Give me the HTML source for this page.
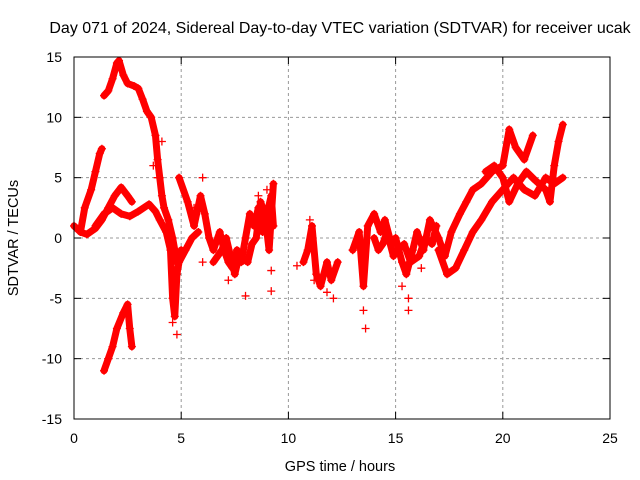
<!DOCTYPE html>
<html><head><meta charset="utf-8"><style>
body{margin:0;background:#fff}
svg{display:block;font-family:"Liberation Sans",sans-serif}
</style></head><body>
<svg id="chart" width="640" height="480">
<rect width="640" height="480" fill="#fff"/>
<text x="340" y="33" font-size="16" text-anchor="middle">Day 071 of 2024, Sidereal Day-to-day VTEC variation (SDTVAR) for receiver ucak</text>
<text x="340" y="471" font-size="14.5" text-anchor="middle">GPS time / hours</text>
<text transform="translate(18,238) rotate(-90)" font-size="14.5" text-anchor="middle">SDTVAR / TECUs</text>
<g id="grid"></g><g id="ticks"></g><g id="series"></g>
<rect x="74" y="57" width="536" height="362" fill="none" stroke="#000" stroke-width="1"/>
</svg>
<script>
const xTicks=[0,5,10,15,20,25];
const yTicks=[-15,-10,-5,0,5,10,15];
const seriesA=[[1.4,11.8],[1.6,12.2],[1.8,13.2],[2.0,14.5],[2.1,14.7],[2.3,13.5],[2.5,12.8],[2.8,12.6],[3.0,12.4],[3.2,11.5],[3.4,10.5],[3.6,10],[3.8,8.5],[3.9,6.5],[4.0,5],[4.1,3.5],[4.2,2.5],[4.4,1.5],[4.6,0],[4.8,-2],[5.0,-1]];
const seriesB=[[0.3,0.5],[0.5,2.5],[0.8,4],[1.0,5.5],[1.2,7],[1.3,7.4]];
const seriesC=[[0,1],[0.3,0.5],[0.6,0.3],[1.0,0.8],[1.3,1.5],[1.6,2.5],[1.9,3.5],[2.2,4.2],[2.5,3.5],[2.7,3.0]];
const seriesE=[[1.0,1],[1.4,2],[1.8,2.5],[2.2,2.0],[2.6,1.8],[3.0,2.2],[3.5,2.8],[3.8,2.2],[4.0,1.5],[4.3,0.5],[4.5,-1],[4.6,-5],[4.7,-6.5],[4.8,-3],[4.9,-2],[5.2,-1],[5.5,0],[5.8,0.5]];
const seriesD=[[1.4,-11],[1.6,-10],[1.8,-9],[2.0,-7.5],[2.3,-6.2],[2.5,-5.5],[2.6,-7.5],[2.7,-9]];
const seriesF=[[4.9,5],[5.3,3],[5.6,1],[5.9,3.5],[6.1,2],[6.3,0],[6.5,-1],[6.8,0.5],[7.0,-1],[7.2,-2],[7.4,-2.5],[7.6,-1],[7.8,-2],[8.0,0],[8.2,2],[8.4,1],[8.6,2.5],[8.8,0.5],[9.0,2],[9.2,3.5],[9.3,1]];
const seriesG=[[10.7,-2],[10.9,-1],[11.1,1],[11.3,-3],[11.5,-4],[11.8,-2],[12.0,-3.5],[12.3,-2]];
const seriesH=[[13.0,-1],[13.3,0.5],[13.5,-4],[13.7,1],[14.0,2],[14.3,0.5],[14.5,1.5],[14.8,-0.5],[15.0,0],[15.3,-2],[15.5,-3],[15.8,-1],[16.0,0.5],[16.3,-1],[16.6,1.5],[17.0,0],[17.3,-1.5],[17.6,0.5],[18.0,2],[18.3,3],[18.6,4],[19.0,4.5],[19.5,5.5],[20.0,6],[20.3,9],[20.6,7.5],[21.0,6.5],[21.4,8.5]];
const seriesI=[[17.0,-1],[17.4,-3],[17.8,-2.5],[18.2,-1],[18.6,0.5],[19.0,1.5],[19.5,3],[20.0,4],[20.5,5],[21.0,4],[21.5,3.5],[22,5],[22.4,4.5],[22.8,5]];
const seriesJ=[[19.2,5.5],[19.6,6],[20.0,5],[20.3,3],[20.7,4.5],[21.1,5.5],[21.5,4.8],[22.0,4],[22.2,3],[22.4,6],[22.6,8],[22.8,9.4]];
const seriesK=[[6.5,-2],[6.9,-1],[7.1,0],[7.3,-1.5],[7.5,-3],[7.7,-1.5],[8.1,-2],[8.3,-0.5],[8.5,0],[8.7,3],[8.9,2],[9.1,-1],[9.3,4.5]];
const seriesL=[[14.0,0],[14.2,-1],[14.4,-0.5],[14.6,0.5],[14.9,-1.5],[15.1,-1],[15.4,-0.5],[15.7,-2],[16.1,-1.5],[16.4,0],[16.7,-0.5],[16.9,1]];
const scatterX=[3.7,3.9,4.1,4.6,4.8,5.6,6.0,6.0,7.2,8.0,8.6,9.0,9.2,9.2,10.4,11.0,11.2,11.8,12.1,13.0,13.5,13.6,15.3,15.6,15.6,16.2];
const scatterY=[6,5,8,-7,-8,2.5,5,-2,-3.5,-4.8,3.5,4,-2.7,-4.4,-2.3,1.5,-3.5,-4.5,-5,-1,-6,-7.5,-4,-5,-6,-2.5];
const allSeries=[seriesA,seriesB,seriesC,seriesE,seriesD,seriesF,seriesG,seriesH,seriesI,seriesJ,seriesK,seriesL];
const NS='http://www.w3.org/2000/svg';
const X=h=>74+h*536/25, Y=v=>238-v*362/30;
function mk(t,a,p){const e=document.createElementNS(NS,t);for(const k in a)e.setAttribute(k,a[k]);p.appendChild(e);return e;}
const grid=document.getElementById('grid'),ticks=document.getElementById('ticks'),ser=document.getElementById('series');
xTicks.forEach(t=>{const x=X(t);
 if(t>0&&t<25){const l=mk('line',{x1:x,x2:x,y1:57,y2:419,stroke:'#999','stroke-dasharray':'3,3'},grid);
 
 }
 mk('line',{x1:x,x2:x,y1:419,y2:412,stroke:'#000'},ticks);mk('line',{x1:x,x2:x,y1:57,y2:64,stroke:'#000'},ticks);
 const tx=mk('text',{x:x,y:443,'font-size':14,'text-anchor':'middle'},ticks);tx.textContent=t;
 
 });
yTicks.forEach(t=>{const y=Y(t);
 if(t>-15&&t<15){const l=mk('line',{x1:74,x2:610,y1:y,y2:y,stroke:'#999','stroke-dasharray':'3,3'},grid);
 
 }
 mk('line',{x1:74,x2:81,y1:y,y2:y,stroke:'#000'},ticks);mk('line',{x1:610,x2:603,y1:y,y2:y,stroke:'#000'},ticks);
 const tx=mk('text',{x:62,y:y+5,'font-size':14,'text-anchor':'end'},ticks);tx.textContent=t;
 
 });
function marker(x,y){
 const m=mk('path',{d:`M${x-4},${y}H${x+4}M${x},${y-4}V${y+4}`,stroke:'#f00','stroke-width':1.3},ser);
 
 }
allSeries.forEach((s,i)=>{
 const pl=mk('polyline',{points:s.map(p=>X(p[0])+','+Y(p[1])).join(' '),fill:'none',stroke:'#f00','stroke-width':7,'stroke-linejoin':'round','stroke-linecap':'round'},ser);
 
 
 s.forEach(p=>marker(X(p[0]),Y(p[1])));
});
scatterX.forEach((h,i)=>marker(X(h),Y(scatterY[i])));
</script>
</body></html>
